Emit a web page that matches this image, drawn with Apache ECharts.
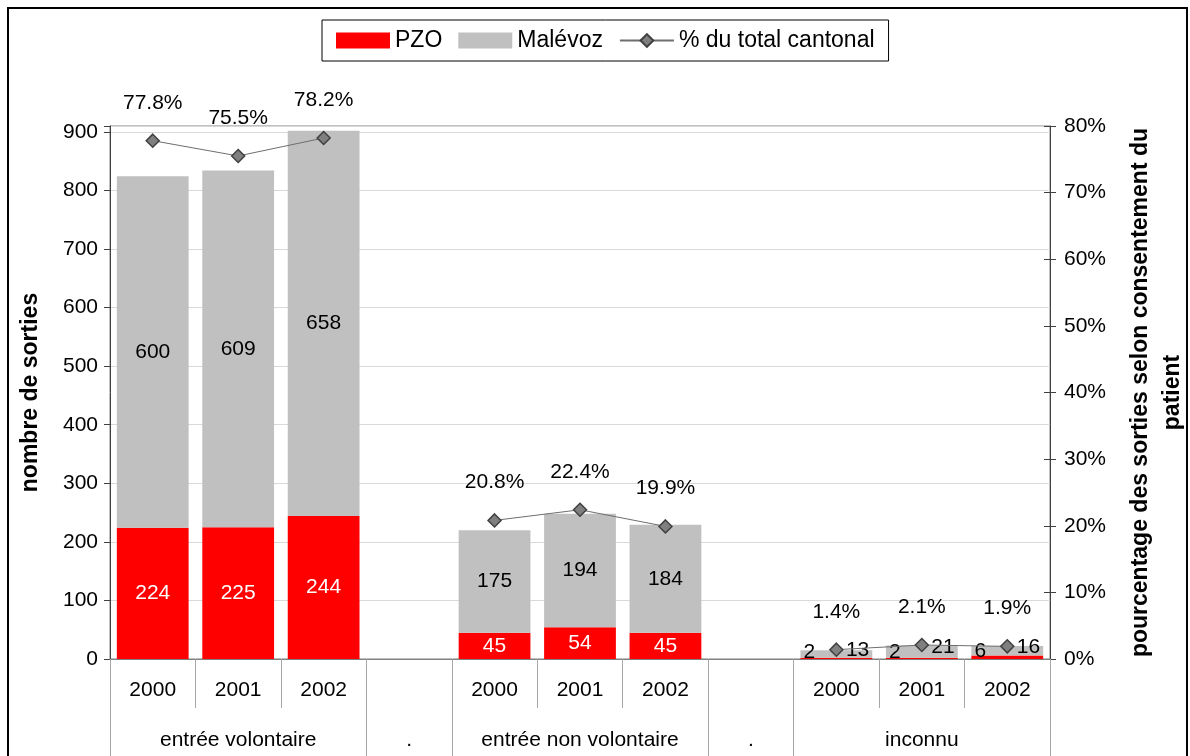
<!DOCTYPE html>
<html><head><meta charset="utf-8">
<script src="https://cdn.jsdelivr.net/npm/echarts@6/dist/echarts.min.js"></script>
<style>html,body{margin:0;padding:0;background:#fff}#c{width:1190px;height:756px}</style>
</head><body><div id="c"></div>
<script>
const years = ['2000','2001','2002','','2000','2001','2002','','2000','2001','2002'];
const groupNames = ['entrée volontaire','.','entrée non volontaire','.','inconnu'];
const groupSpans = [3,1,3,1,3];
const pzo = [224,225,244,null,45,54,45,null,2,2,6];
const malevoz = [600,609,658,null,175,194,184,null,13,21,16];
const pct = [77.8,75.5,78.2,null,20.8,22.4,19.9,null,1.4,2.1,1.9];
const leftTicksMax = 900;
const rightTicks = ['0%','10%','20%','30%','40%','50%','60%','70%','80%'];

const FONT = 'Liberation Sans, Arial, sans-serif';
const FS = 21;
const smallIdx = [8,9,10];

// group boundaries / centres (in category units) from the spans
const bounds = [0];
groupSpans.forEach(s => bounds.push(bounds[bounds.length-1] + s));
const centres = groupSpans.map((s,i) => bounds[i] + s/2);

const pzoData = pzo.map((v,i)=> smallIdx.includes(i) ? {value:v,label:{position:'insideLeft',color:'#000',offset:[-2,-6]}} : v);
const malData = malevoz.map((v,i)=> smallIdx.includes(i) ? {value:v,label:{position:'insideRight',offset:[2,-4]}} : v);

const chart = echarts.init(document.getElementById('c'));
chart.setOption({
  animation:false,
  textStyle:{fontFamily:FONT},
  graphic:[{type:'rect',shape:{x:8,y:8,width:1179,height:800},style:{fill:null,stroke:'#000',lineWidth:2},z:-1}],
  legend:{
    top:20,left:322,
    data:[{name:'PZO',icon:'rect'},{name:'Malévoz',icon:'rect'},{name:'% du total cantonal'}],
    itemWidth:54,itemHeight:16,itemGap:16,
    borderColor:'#000',borderWidth:1,padding:[9,14,9,14],
    textStyle:{fontSize:23,color:'#000',fontFamily:FONT}
  },
  grid:{left:110,right:140,top:126,bottom:97,show:true,borderColor:'#808080',borderWidth:1,outerBoundsMode:'none',containLabel:false},
  xAxis:[{
    type:'category',data:years,position:'bottom',
    axisLine:{lineStyle:{color:'#808080'}},
    axisTick:{show:true,interval:0,length:49,lineStyle:{color:'#a6a6a6'}},
    axisLabel:{interval:0,fontSize:FS,color:'#000',margin:21,fontFamily:FONT},
    z:3
  },{
    type:'value',min:0,max:bounds[bounds.length-1],position:'bottom',offset:0,
    axisLine:{show:true,lineStyle:{color:'rgba(0,0,0,0)'}},
    axisTick:{show:true,length:100,customValues:bounds,lineStyle:{color:'#a6a6a6'}},
    axisLabel:{show:true,customValues:centres,fontSize:FS,color:'#000',margin:71,fontFamily:FONT,
      formatter:(v)=>{const k=centres.indexOf(v);return k>=0?groupNames[k]:'';}},
    splitLine:{show:false}
  }],
  yAxis:[{
    type:'value',min:0,max:910,interval:100,position:'left',
    name:'nombre de sorties',nameLocation:'middle',nameGap:68,
    nameTextStyle:{fontSize:23,fontWeight:'bold',color:'#000',fontFamily:FONT},
    axisLine:{show:true,lineStyle:{color:'#404040'}},
    axisTick:{show:true,length:6,lineStyle:{color:'#404040'}},
    axisLabel:{fontSize:FS,color:'#000',margin:12,formatter:v=> v>leftTicksMax?'':String(v)},
    splitLine:{show:true,lineStyle:{color:'#d9d9d9'}}
  },{
    type:'value',min:0,max:80,interval:10,position:'right',
    name:'pourcentage des sorties selon consentement du\npatient',nameLocation:'middle',nameGap:75,
    nameTextStyle:{fontSize:23,fontWeight:'bold',color:'#000',lineHeight:32,fontFamily:FONT},
    axisLine:{show:true,lineStyle:{color:'#404040'}},
    axisTick:{show:true,length:6,lineStyle:{color:'#404040'}},
    axisLabel:{fontSize:FS,color:'#000',margin:14,formatter:(v)=>rightTicks[Math.round(v/10)]},
    splitLine:{show:false}
  },{
    type:'value',min:0,max:80,interval:10,position:'right',
    axisLine:{show:false},
    axisTick:{show:true,inside:true,length:6,lineStyle:{color:'#404040'}},
    axisLabel:{show:false},splitLine:{show:false}
  }],
  series:[{
    name:'PZO',type:'bar',stack:'s',data:pzoData,barCategoryGap:'16%',
    itemStyle:{color:'#ff0000'},
    label:{show:true,position:'inside',color:'#fff',fontSize:FS,fontFamily:FONT}
  },{
    name:'Malévoz',type:'bar',stack:'s',data:malData,
    itemStyle:{color:'#c0c0c0'},
    label:{show:true,position:'inside',color:'#000',fontSize:FS,fontFamily:FONT}
  },{
    name:'% du total cantonal',type:'line',yAxisIndex:1,data:pct,connectNulls:false,
    symbol:'diamond',symbolSize:13,
    lineStyle:{color:'#6e6e6e',width:1},
    itemStyle:{color:'#7f7f7f',borderColor:'#404040',borderWidth:1.5},
    label:{show:true,position:'top',distance:20,color:'#000',fontSize:FS,fontFamily:FONT,formatter:p=>p.value.toFixed(1)+'%'},
    z:5
  }]
});
</script></body></html>
